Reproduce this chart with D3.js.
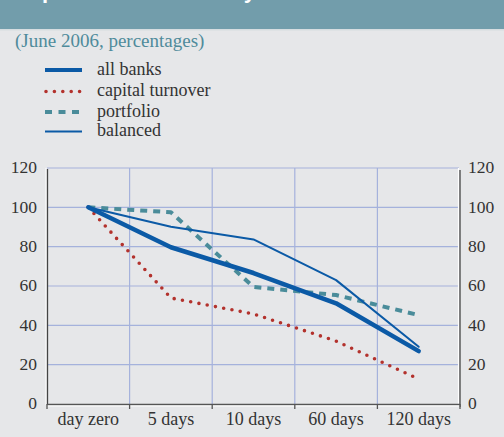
<!DOCTYPE html>
<html>
<head>
<meta charset="utf-8">
<script src="https://cdn.jsdelivr.net/npm/d3@7"></script>
<style>
  html, body { margin: 0; padding: 0; background: #e6e7e9; }
  svg { display: block; }
</style>
</head>
<body>
<svg id="chart" width="504" height="437"></svg>
<script>
const categories = ["day zero", "5 days", "10 days", "60 days", "120 days"];
const allBanks = [100, 79.7, 66.6, 51.2, 26.9];
const capitalTurnover = [100, 53.9, 45.8, 32, 12.7];
const portfolio = [100, 97.5, 59.5, 55.4, 45.2];
const balanced = [100, 90.1, 83.7, 63, 29.1];
const yTicks = [0, 20, 40, 60, 80, 100, 120];
const seriesNames = ["all banks", "capital turnover", "portfolio", "balanced"];

const svg = d3.select("#chart");
const W = 504, H = 437;
const SERIF = '"Liberation Serif"';

svg.append("rect").attr("width", W).attr("height", H).attr("fill", "#e6e7e9");
// title band
svg.append("rect").attr("x", 0).attr("y", 0).attr("width", W).attr("height", 29).attr("fill", "#729dab");
svg.append("rect").attr("x", 0).attr("y", 29).attr("width", W).attr("height", 1.5).attr("fill", "#d6dde0");
svg.append("text").attr("x", 14).attr("y", -2)
  .style("font-family", '"Liberation Sans"').attr("font-size", 22).attr("font-weight", "bold")
  .attr("fill", "#ffffff").text("Deposit outflow test by");

svg.append("text").attr("x", 15).attr("y", 47)
  .style("font-family", SERIF).style("font-size", "19px").attr("fill", "#4f8b9b")
  .text("(June 2006, percentages)");

const styles = {
  "all banks": { color: "#0b5aa6", width: 4.5, dash: null, cap: "round" },
  "capital turnover": { color: "#b3322d", width: 3.6, dash: "0,8.4", cap: "round" },
  "portfolio": { color: "#4a8c9a", width: 4, dash: "7,6", cap: "butt" },
  "balanced": { color: "#0b5aa6", width: 2, dash: null, cap: "round" }
};
const seriesData = [allBanks, capitalTurnover, portfolio, balanced];

// legend
const legendY = [70, 91.5, 112, 131.5];
seriesNames.forEach((name, i) => {
  const s = styles[name];
  const ly = legendY[i];
  svg.append("line").attr("x1", name === "capital turnover" ? 46 : 45).attr("x2", 82)
    .attr("y1", ly).attr("y2", ly)
    .attr("stroke", s.color).attr("stroke-width", name === "all banks" ? 4 : s.width)
    .attr("stroke-dasharray", name === "portfolio" ? "7,6.5" : (name === "capital turnover" ? "0,8.4" : s.dash))
    .attr("stroke-linecap", name === "capital turnover" ? "round" : "butt");
  svg.append("text").attr("x", 97).attr("y", ly + 4.8)
    .style("font-family", SERIF).style("font-size", "18px").attr("fill", "#333333").text(name);
});

// scales
const x = d3.scaleBand().domain(categories).range([47, 460]).paddingInner(0).paddingOuter(0);
const y = d3.scaleLinear().domain([0, 120]).range([404, 168]);

// grid
const grid = svg.append("g");
yTicks.filter(t => t > 0).forEach(t => {
  grid.append("line").attr("x1", 47).attr("x2", 459).attr("y1", y(t)).attr("y2", y(t))
    .attr("stroke", "#a5b2dc").attr("stroke-width", 1.2);
});
categories.slice(1).forEach(c => {
  grid.append("line").attr("x1", x(c)).attr("x2", x(c)).attr("y1", y(120)).attr("y2", y(0))
    .attr("stroke", "#a5b2dc").attr("stroke-width", 1.2);
});

function styleTicks(g, size) {
  g.select(".domain").remove();
  g.selectAll("text").style("font-family", SERIF).style("font-size", size).attr("fill", "#333333");
}

// axes
const gl = svg.append("g").attr("transform", "translate(47,0)")
  .call(d3.axisLeft(y).tickValues(yTicks).tickSize(0).tickPadding(10));
styleTicks(gl, "17.5px");
gl.selectAll("text").attr("dy", "0.28em");

const gr = svg.append("g").attr("transform", "translate(460,0)")
  .call(d3.axisRight(y).tickValues(yTicks).tickSize(0).tickPadding(8));
styleTicks(gr, "17.5px");
gr.selectAll("text").attr("dy", "0.28em");

// axis lines (with white highlight)
svg.append("line").attr("x1", 46).attr("x2", 46).attr("y1", y(120)).attr("y2", y(0) + 1)
  .attr("stroke", "#ffffff").attr("stroke-width", 1);
svg.append("line").attr("x1", 47.5).attr("x2", 47.5).attr("y1", y(120) + 1).attr("y2", y(0) + 1)
  .attr("stroke", "#444444").attr("stroke-width", 1.3);
svg.append("line").attr("x1", 458.5).attr("x2", 458.5).attr("y1", y(120)).attr("y2", y(0))
  .attr("stroke", "#ffffff").attr("stroke-width", 1.2);
svg.append("line").attr("x1", 460).attr("x2", 460).attr("y1", y(120) + 2).attr("y2", y(0) + 3)
  .attr("stroke", "#444444").attr("stroke-width", 1.3);
svg.append("line").attr("x1", 47).attr("x2", 460).attr("y1", y(0) + 0.5).attr("y2", y(0) + 0.5)
  .attr("stroke", "#555555").attr("stroke-width", 1.3);
svg.append("line").attr("x1", 47).attr("x2", 460).attr("y1", y(0) + 2).attr("y2", y(0) + 2)
  .attr("stroke", "#ffffff").attr("stroke-width", 1.2);
// bottom ticks at band edges
categories.concat(["_end"]).forEach((c, i) => {
  const xx = i < categories.length ? x(c) : x(categories[categories.length - 1]) + x.bandwidth();
  svg.append("line").attr("x1", xx).attr("x2", xx).attr("y1", y(0)).attr("y2", y(0) + 5)
    .attr("stroke", "#555555").attr("stroke-width", 1.3);
});

const gb = svg.append("g").attr("transform", `translate(0,${y(0)})`)
  .call(d3.axisBottom(x).tickSize(0).tickPadding(0));
styleTicks(gb, "18px");
gb.selectAll("text").attr("dy", "0").attr("y", 21);

// series lines
const line = d3.line().x((d, i) => x(categories[i]) + x.bandwidth() / 2).y(d => y(d));
const drawOrder = [2, 1, 3, 0];
drawOrder.forEach(k => {
  const name = seriesNames[k];
  const s = styles[name];
  svg.append("path").datum(seriesData[k]).attr("d", line)
    .attr("fill", "none").attr("stroke", s.color).attr("stroke-width", s.width)
    .attr("stroke-dasharray", s.dash).attr("stroke-linecap", s.cap)
    .attr("stroke-linejoin", "round");
});
</script>
</body>
</html>
